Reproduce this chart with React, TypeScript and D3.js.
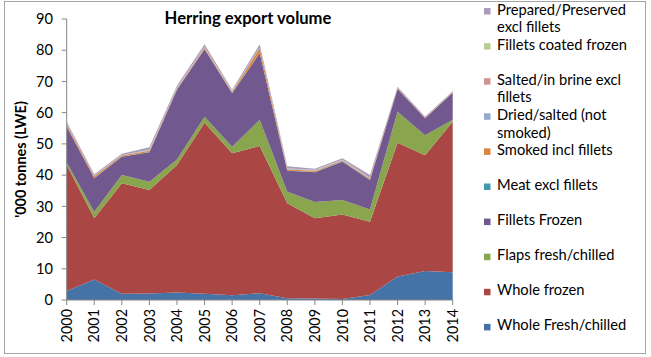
import React from "react";
import * as d3 from "d3";

const years = [2000, 2001, 2002, 2003, 2004, 2005, 2006, 2007, 2008, 2009, 2010, 2011, 2012, 2013, 2014];
const yTicks = [0, 10, 20, 30, 40, 50, 60, 70, 80, 90];

// Stacked series, bottom to top
const wholeFresh = [2.9, 6.6, 2.0, 2.1, 2.4, 2.0, 1.5, 2.2, 0.6, 0.5, 0.3, 1.6, 7.5, 9.3, 8.9];
const wholeFrozen = [40.3, 19.6, 35.4, 33.1, 40.8, 54.8, 45.5, 47.1, 30.4, 25.7, 27.1, 23.5, 42.9, 37.1, 48.2];
const flaps = [0.8, 2.1, 2.6, 2.7, 1.8, 1.9, 2.1, 8.4, 3.7, 5.2, 4.6, 3.9, 9.9, 6.4, 0.6];
const filletsFrozen = [11.5, 10.7, 5.9, 9.4, 22.3, 21.6, 17.1, 21.3, 6.7, 9.5, 12.3, 9.4, 7.3, 5.4, 8.7];
const meat = [0.1, 0.1, 0.1, 0.1, 0.1, 0.1, 0.1, 0.1, 0.1, 0.1, 0.1, 0.1, 0.1, 0.05, 0.05];
const smoked = [0.5, 0.5, 0.3, 0.4, 0.3, 0.4, 0.3, 1.5, 0.4, 0.3, 0.3, 0.3, 0.2, 0.15, 0.15];
const dried = [0.1, 0.1, 0.05, 0.1, 0.1, 0.1, 0.1, 0.1, 0.1, 0.1, 0.1, 0.1, 0.05, 0.05, 0.05];
const salted = [0.1, 0.1, 0.05, 0.1, 0.1, 0.1, 0.1, 0.1, 0.1, 0.1, 0.1, 0.1, 0.05, 0.05, 0.05];
const coated = [0.1, 0.1, 0.05, 0.1, 0.1, 0.1, 0.1, 0.1, 0.1, 0.1, 0.1, 0.1, 0.05, 0.05, 0.05];
const prepared = [0.6, 0.4, 0.4, 0.8, 0.6, 0.8, 0.4, 1.0, 0.6, 0.4, 0.4, 0.9, 0.25, 0.2, 0.2];

const seriesNames = [
  "Whole Fresh/chilled",
  "Whole frozen",
  "Flaps fresh/chilled",
  "Fillets Frozen",
  "Meat excl fillets",
  "Smoked incl fillets",
  "Dried/salted (not smoked)",
  "Salted/in brine excl fillets",
  "Fillets coated frozen",
  "Prepared/Preserved excl fillets",
];
const seriesValues = [wholeFresh, wholeFrozen, flaps, filletsFrozen, meat, smoked, dried, salted, coated, prepared];
const colors = ["#4572A7", "#AA4643", "#89A54E", "#71588F", "#4198AF", "#DB843D", "#93A9CF", "#D19392", "#B9CD96", "#A99BBD"];

// legend lines (top to bottom)
const legendLines = [
  ["Prepared/Preserved", "excl fillets"],
  ["Fillets coated frozen"],
  ["Salted/in brine excl", "fillets"],
  ["Dried/salted (not", "smoked)"],
  ["Smoked incl fillets"],
  ["Meat excl fillets"],
  ["Fillets Frozen"],
  ["Flaps fresh/chilled"],
  ["Whole frozen"],
  ["Whole Fresh/chilled"],
];

const FONT = "Lato, 'Open Sans', sans-serif";

export default function App() {
  const W = 651, H = 357;
  const left = 66.7, right = 452.7, top = 19, bottom = 300;
  const x = d3.scaleLinear().domain([2000, 2014]).range([left, right]);
  const y = d3.scaleLinear().domain([0, 90]).range([bottom, top]);

  const table = years.map((yr, i) => {
    const row: any = { year: yr };
    seriesNames.forEach((n, k) => (row[n] = seriesValues[k][i]));
    return row;
  });
  const stacked = d3.stack().keys(seriesNames)(table as any);
  const area = d3
    .area<any>()
    .x((d: any) => x(d.data.year))
    .y0((d: any) => y(d[0]))
    .y1((d: any) => y(d[1]));

  const axisColor = "#868686";

  return (
    <svg width={W} height={H} style={{ position: "absolute", left: 0, top: 0, background: "#fff" }} fontFamily={FONT}>
      <rect x={4.5} y={1.5} width={641} height={352} fill="#fff" stroke="#a6a6a6" strokeWidth={1} />
      {stacked.map((s, k) => (
        <path key={k} d={area(s as any) || ""} fill={colors[k]} stroke="none" />
      ))}
      {/* y axis */}
      <line x1={left} x2={left} y1={top} y2={bottom} stroke={axisColor} />
      {yTicks.map((t) => (
        <g key={t}>
          <line x1={left - 5} x2={left} y1={y(t)} y2={y(t)} stroke={axisColor} />
          <text x={53} y={y(t)} dy="0.36em" textAnchor="end" fontSize={14.6} fill="#000">
            {t}
          </text>
        </g>
      ))}
      {/* x axis */}
      <line x1={left} x2={right} y1={bottom} y2={bottom} stroke={axisColor} />
      {years.map((yr) => (
        <g key={yr}>
          <line x1={x(yr)} x2={x(yr)} y1={bottom} y2={bottom + 5} stroke={axisColor} />
          <text
            transform={`translate(${x(yr)},${bottom + 9}) rotate(-90)`}
            textAnchor="end"
            dy="0.36em"
            fontSize={14.4}
            fill="#000"
          >
            {yr}
          </text>
        </g>
      ))}
      {/* titles */}
      <text x={248} y={23.5} textAnchor="middle" fontSize={16.6} fontWeight="bold" fill="#000">
        Herring export volume
      </text>
      <text
        transform={`translate(26,${(top + bottom) / 2}) rotate(-90)`}
        textAnchor="middle"
        fontSize={14.4}
        fontWeight="bold"
        fill="#000"
      >
        '000 tonnes (LWE)
      </text>
      {/* legend */}
      {legendLines.map((lines, i) => {
        const base = 14.5 + 35.1 * i;
        const color = colors[seriesNames.length - 1 - i];
        return (
          <g key={i}>
            <rect x={484} y={base - 6.5} width={6.5} height={6.5} fill={color} />
            {lines.map((ln, j) => (
              <text key={j} x={497} y={base + j * 17.7} fontSize={14.7} fill="#000">
                {ln}
              </text>
            ))}
          </g>
        );
      })}
    </svg>
  );
}
